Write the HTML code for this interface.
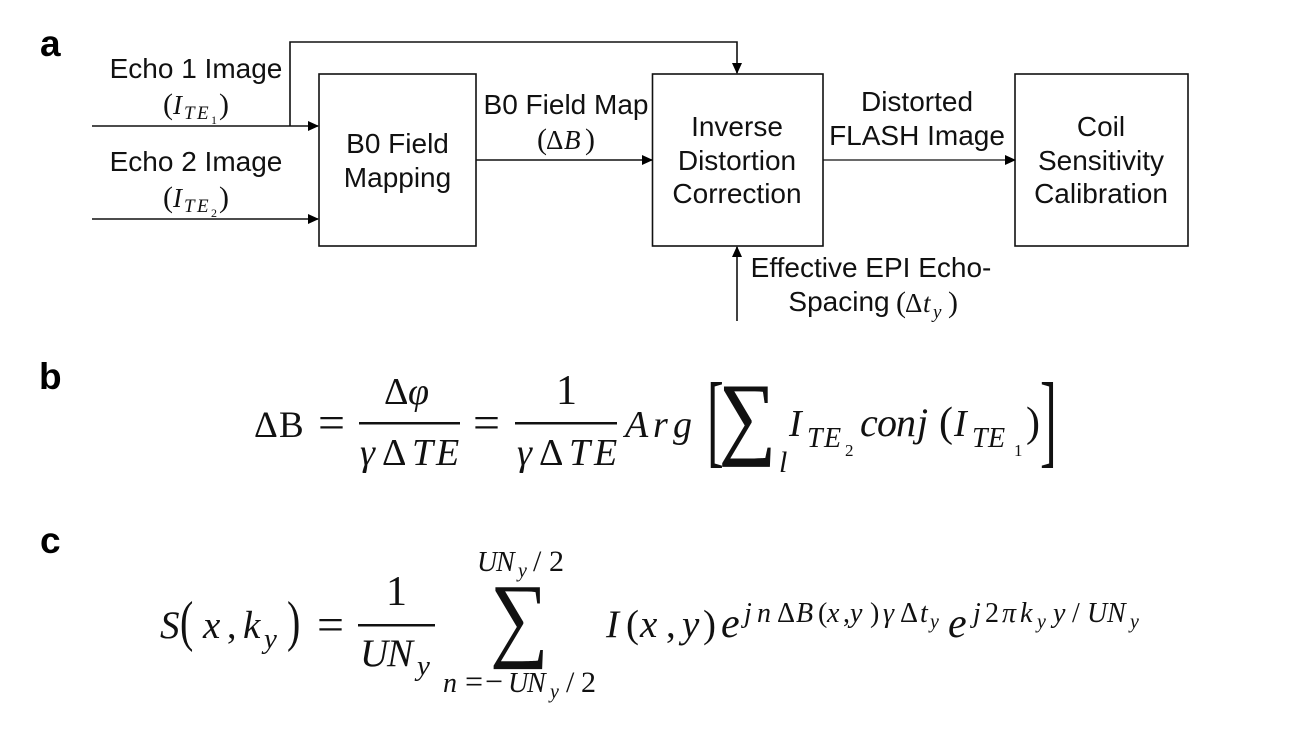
<!DOCTYPE html>
<html><head><meta charset="utf-8"><style>
html,body{margin:0;padding:0;background:#fff;width:1309px;height:730px;overflow:hidden}
svg{display:block;filter:blur(.3px)}
.s{font-family:"Liberation Sans",sans-serif;font-size:28px;fill:#111;text-anchor:middle}
.b{font-family:"Liberation Sans",sans-serif;font-size:37px;font-weight:bold;fill:#000}
.m{font-family:"Liberation Serif",serif;font-style:italic;fill:#111}
.r{font-family:"Liberation Serif",serif;fill:#111}
</style></head><body>
<svg width="1309" height="730" viewBox="0 0 1309 730" xmlns="http://www.w3.org/2000/svg">
<defs><marker id="a" markerWidth="11" markerHeight="10" refX="10" refY="5" orient="auto" markerUnits="userSpaceOnUse"><path d="M0 0L11 5L0 10Z" fill="#000"/></marker></defs>
<rect width="1309" height="730" fill="#fff"/>
<text class="b" x="40" y="56">a</text>
<text class="b" x="39" y="389">b</text>
<text class="b" x="40" y="553">c</text>
<g fill="none" stroke="#111" stroke-width="1.6">
<rect x="319" y="74" width="157" height="172"/>
<rect x="652.500" y="74" width="170.500" height="172"/>
<rect x="1015" y="74" width="173" height="172"/>
<path d="M92 126H318" marker-end="url(#a)"/>
<path d="M92 219H318" marker-end="url(#a)"/>
<path d="M290 126V42H737V73" marker-end="url(#a)"/>
<path d="M476 160H652" marker-end="url(#a)"/>
<path d="M823 160H1015" stroke-width="1.2" marker-end="url(#a)"/>
<path d="M737 321V247" marker-end="url(#a)"/>
</g>
<text class="s" x="196" y="78">Echo 1 Image</text>
<text class="s" x="196" y="171">Echo 2 Image</text>
<text class="s" x="566" y="114">B0 Field Map</text>
<text class="s" x="397.500" y="153">B0 Field</text>
<text class="s" x="397.500" y="187">Mapping</text>
<text class="s" x="737" y="136">Inverse</text>
<text class="s" x="737" y="170">Distortion</text>
<text class="s" x="737" y="203">Correction</text>
<text class="s" x="917" y="111">Distorted</text>
<text class="s" x="917" y="145">FLASH Image</text>
<text class="s" x="1101" y="136">Coil</text>
<text class="s" x="1101" y="170">Sensitivity</text>
<text class="s" x="1101" y="203">Calibration</text>
<text class="s" x="871" y="277">Effective EPI Echo-</text>
<text class="s" x="839" y="311">Spacing</text>

<text class="r" font-size="30" x="163" y="114">(</text><text class="m" font-size="27" x="173" y="114">I</text><text class="m" font-size="19" x="184 197" y="119">TE</text><text class="r" font-size="12" x="211" y="124">1</text><text class="r" font-size="30" x="219" y="114">)</text>
<text class="r" font-size="30" x="163" y="207">(</text><text class="m" font-size="27" x="173" y="207">I</text><text class="m" font-size="19" x="184 197" y="212">TE</text><text class="r" font-size="12" x="211" y="217">2</text><text class="r" font-size="30" x="219" y="207">)</text>
<text class="r" font-size="30" x="537" y="149">(</text><text class="r" font-size="27" x="546" y="149">Δ</text><text class="m" font-size="27" x="564" y="149">B</text><text class="r" font-size="30" x="585" y="149">)</text>
<text class="r" font-size="30" x="896" y="312">(</text><text class="r" font-size="27" x="905" y="312">Δ</text><text class="m" font-size="27" x="923" y="312">t</text><text class="m" font-size="19" x="933" y="318">y</text><text class="r" font-size="30" x="948" y="312">)</text>

<g>
<text class="r" font-size="37" x="254 279" y="437">ΔB</text>
<text class="r" font-size="46" x="318" y="438" textLength="27" lengthAdjust="spacingAndGlyphs">=</text>
<text class="r" font-size="38" x="384" y="404">Δ</text><text class="m" font-size="38" x="408" y="404">φ</text>
<rect x="359" y="422" width="101" height="2.500" fill="#111"/>
<text class="m" font-size="38" x="360" y="465">γ</text><text class="r" font-size="38" x="382" y="465">Δ</text><text class="m" font-size="38" x="412 436" y="465">TE</text>
<text class="r" font-size="46" x="473" y="438" textLength="27" lengthAdjust="spacingAndGlyphs">=</text>
<text class="r" font-size="42" x="556" y="404">1</text>
<rect x="515" y="422" width="102" height="2.500" fill="#111"/>
<text class="m" font-size="38" x="517" y="465">γ</text><text class="r" font-size="38" x="539" y="465">Δ</text><text class="m" font-size="38" x="569 594" y="465">TE</text>
<text class="m" font-size="38" x="625 653 673" y="437">Arg</text>
<text class="r" transform="translate(707 454) scale(1.4 2.88)" font-size="36">[</text>
<text class="r" transform="translate(719 447) scale(2 2.3)" font-size="40" stroke="#111" stroke-width=".3">∑</text>
<text class="m" font-size="30" x="779" y="472">l</text>
<text class="m" font-size="38" x="789" y="436">I</text><text class="m" font-size="28" x="807 824" y="447">TE</text><text class="r" font-size="17" x="845" y="456">2</text>
<text class="m" font-size="40" x="860 877 896 917" y="436">conj</text>
<text class="r" font-size="42" x="939" y="436">(</text>
<text class="m" font-size="38" x="954" y="436">I</text><text class="m" font-size="28" x="972 988" y="447">TE</text><text class="r" font-size="17" x="1014" y="456">1</text>
<text class="r" font-size="42" x="1026" y="436">)</text>
<text class="r" transform="translate(1040 454) scale(1.4 2.88)" font-size="36">]</text>
</g>

<g>
<text class="m" font-size="39" x="160" y="638">S</text>
<text class="r" transform="translate(180 640) scale(1 1.4)" font-size="40">(</text>
<text class="m" font-size="39" x="203" y="638">x</text>
<text class="r" font-size="38" x="227" y="638">,</text>
<text class="m" font-size="39" x="243" y="638">k</text><text class="m" font-size="29" x="264" y="648">y</text>
<text class="r" transform="translate(287 640) scale(1 1.4)" font-size="40">)</text>
<text class="r" font-size="46" x="317" y="640" textLength="27" lengthAdjust="spacingAndGlyphs">=</text>
<text class="r" font-size="42" x="386" y="605">1</text>
<rect x="358" y="624" width="77" height="2.500" fill="#111"/>
<text class="m" font-size="39" x="360 387" y="666">UN</text><text class="m" font-size="29" x="417" y="675">y</text>
<text class="r" transform="translate(490 649) scale(2.06 2.36)" font-size="40">∑</text>
<text class="m" font-size="28" x="477 496" y="571">UN</text><text class="m" font-size="20" x="518" y="577">y</text><text class="r" font-size="30" x="533 549" y="571">/2</text>
<text class="m" font-size="28" x="443" y="692">n</text><text class="r" font-size="32" x="465 485" y="692">=−</text><text class="m" font-size="28" x="508 527" y="692">UN</text><text class="m" font-size="20" x="550" y="698">y</text><text class="r" font-size="30" x="566 581" y="692">/2</text>
<text class="m" font-size="39" x="606" y="637">I</text>
<text class="r" font-size="39" x="626" y="637">(</text>
<text class="m" font-size="39" x="640" y="637">x</text>
<text class="r" font-size="39" x="666" y="637">,</text>
<text class="m" font-size="39" x="682" y="637">y</text>
<text class="r" font-size="39" x="703" y="637">)</text>
<text class="m" font-size="42" x="721" y="637">e</text>
<text class="m" font-size="28" x="744 757" y="622">jn</text>
<text class="r" font-size="28" x="777" y="622">Δ</text>
<text class="m" font-size="28" x="796" y="622">B</text>
<text class="r" font-size="28" x="818" y="622">(</text>
<text class="m" font-size="28" x="827" y="622">x</text>
<text class="r" font-size="28" x="843" y="622">,</text>
<text class="m" font-size="28" x="850" y="622">y</text>
<text class="r" font-size="28" x="870" y="622">)</text>
<text class="m" font-size="28" x="883" y="622">γ</text>
<text class="r" font-size="28" x="900" y="622">Δ</text>
<text class="m" font-size="28" x="920" y="622">t</text>
<text class="m" font-size="20" x="930" y="628">y</text>
<text class="m" font-size="42" x="948" y="637">e</text>
<text class="m" font-size="28" x="973" y="622">j</text>
<text class="r" font-size="28" x="985" y="622">2</text>
<text class="m" font-size="28" x="1002" y="622">π</text>
<text class="m" font-size="28" x="1020" y="622">k</text>
<text class="m" font-size="20" x="1037" y="628">y</text>
<text class="m" font-size="28" x="1053" y="622">y</text>
<text class="r" font-size="28" x="1072" y="622">/</text>
<text class="m" font-size="28" x="1087 1107" y="622">UN</text>
<text class="m" font-size="20" x="1130" y="628">y</text>
</g>
</svg>
</body></html>
